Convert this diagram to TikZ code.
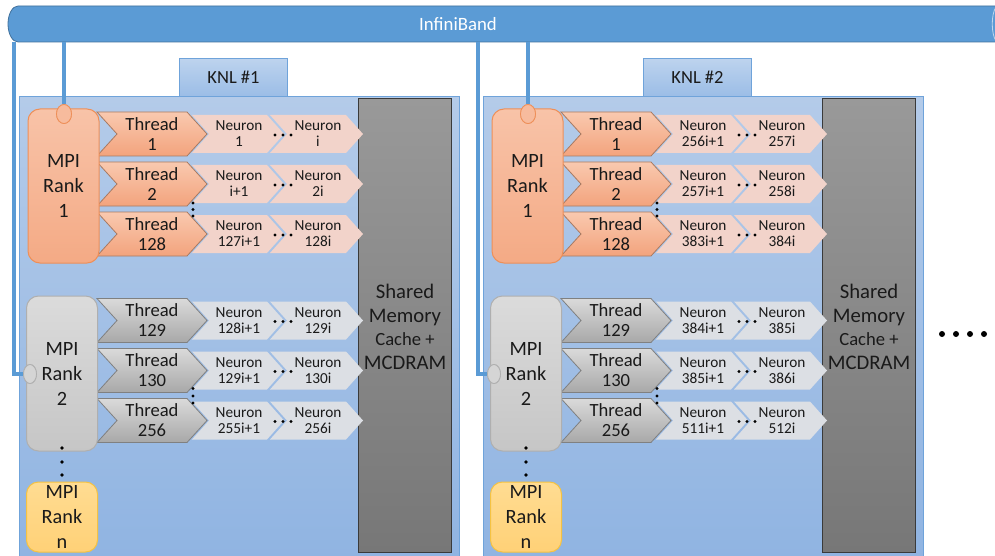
\documentclass[tikz,border=0pt]{standalone}
\usepackage{fontspec}
\setmainfont{Carlito}
\usetikzlibrary{shapes.geometric}
\definecolor{ibblue}{HTML}{5B9BD5}
\definecolor{ibborder}{HTML}{41719C}
\definecolor{knlTop}{HTML}{B4CBE9}
\definecolor{knlBot}{HTML}{90B4E2}
\definecolor{knlLine}{HTML}{6FA3DA}
\definecolor{tabTop}{HTML}{BDD3EE}
\definecolor{tabBot}{HTML}{9BBDE6}
\definecolor{shmTop}{HTML}{999999}
\definecolor{shmBot}{HTML}{777777}
\definecolor{shmLine}{HTML}{3A3A3A}
\definecolor{thrOTop}{HTML}{F9C9AF}
\definecolor{thrOBot}{HTML}{F3A37D}
\definecolor{thrOLine}{HTML}{A87A62}
\definecolor{thrGTop}{HTML}{DADADA}
\definecolor{thrGBot}{HTML}{A8A8A8}
\definecolor{thrGLine}{HTML}{808080}
\definecolor{neuO}{HTML}{F2D3CA}
\definecolor{neuG}{HTML}{DCDFE4}
\definecolor{rOTop}{HTML}{F8C3A8}
\definecolor{rOBot}{HTML}{F4AA85}
\definecolor{rOLine}{HTML}{EE8F58}
\definecolor{rGTop}{HTML}{DBDBDB}
\definecolor{rGBot}{HTML}{C6C6C6}
\definecolor{rGLine}{HTML}{AFAFAF}
\definecolor{rNTop}{HTML}{FFDC92}
\definecolor{rNBot}{HTML}{FFD177}
\definecolor{rNLine}{HTML}{F5C242}
\definecolor{txt}{HTML}{1A1A1A}
\tikzset{
  neuo/.style={fill=neuO},
  neug/.style={fill=neuG},
  thro/.style={draw=thrOLine, line width=0.8pt, top color=thrOTop, bottom color=thrOBot},
  thrg/.style={draw=thrGLine, line width=0.8pt, top color=thrGTop, bottom color=thrGBot},
  thrtext/.style={inner sep=0pt, align=center, text=txt, font=\fontsize{18.6}{20}\selectfont},
  neutext/.style={inner sep=0pt, align=center, text=txt, font=\fontsize{15.3}{16}\selectfont},
  ranktext/.style={inner sep=0pt, align=center, text=txt, font=\fontsize{20.3}{25}\selectfont, rounded corners=12pt, line width=1pt, minimum width=71pt},
  rank1/.style={ranktext, draw=rOLine, top color=rOTop, bottom color=rOBot, minimum height=154pt},
  rank2/.style={ranktext, draw=rGLine, top color=rGTop, bottom color=rGBot, minimum height=155pt},
  rankn/.style={ranktext, draw=rNLine, top color=rNTop, bottom color=rNBot, minimum height=70pt},
  porto/.style={ellipse, draw=rOLine, line width=0.8pt, fill=rOTop!70!rOBot, minimum width=15pt, minimum height=19pt, inner sep=0pt},
  portg/.style={ellipse, draw=rGLine, line width=0.8pt, fill=rGTop!70!rGBot, minimum width=13pt, minimum height=19pt, inner sep=0pt},
  knlbox/.style={draw=knlLine, line width=1pt, top color=knlTop, bottom color=knlBot, minimum width=440pt, minimum height=462pt, anchor=north west, inner sep=0pt},
  knltab/.style={draw=knlLine, line width=1pt, top color=tabTop, bottom color=tabBot, minimum width=108pt, minimum height=38pt, anchor=north west, inner sep=0pt, text=txt, font=\fontsize{18.5}{20}\selectfont},
  shmbox/.style={draw=shmLine, line width=1.2pt, top color=shmTop, bottom color=shmBot, minimum width=93pt, minimum height=454pt, anchor=north west, inner sep=0pt},
  shmtext/.style={inner sep=0pt, align=center, text=txt, font=\fontsize{20.7}{24}\selectfont},
  ibline/.style={draw=ibblue, line width=4pt},
  dotfill/.style={fill=black}
}
\newcommand\trow[6]{%
  \path[neu#3] (192,{#2-19}) -- (267,{#2-19}) -- (284,#2) -- (267,{#2+19}) -- (192,{#2+19}) -- (209,#2) -- cycle;
  \path[neu#3] (270,{#2-19}) -- (346,{#2-19}) -- (363,#2) -- (346,{#2+19}) -- (270,{#2+19}) -- (287,#2) -- cycle;
  \path[thr#3] (97,{#2-22}) -- (187,{#2-22}) -- (207,#2) -- (187,{#2+22}) -- (97,{#2+22}) -- (117,#2) -- cycle;
  \node[thrtext] (#1t) at (152,#2) {Thread\\#4};
  \node[neutext] (#1a) at (239,#2) {Neuron\\#5};
  \node[neutext] (#1b) at (318,#2) {Neuron\\#6};
  \foreach \dx in {275,283,291} \fill[dotfill] (\dx,{#2+1}) circle[radius=1.7pt];
}
\newcommand\knlback[2]{%
  \node[knltab] (tab#1) at (179,58) {#2};
  \node[knlbox] (knl#1) at (19,96) {};
  \node[shmbox] (shm#1) at (358,98) {};
  \node[shmtext] (shmt#1) at (405,327) {Shared\\Memory\\[-1pt]\fontsize{18.6}{23}\selectfont Cache +\\MCDRAM};
}
\newcommand\knlfront[1]{%
  \node[rank1] (ra#1) at (63.5,186) {MPI\\Rank\\1};
  \node[rank2] (rb#1) at (62,373.5) {MPI\\Rank\\2};
  \node[rankn] (rn#1) at (62,517) {MPI\\Rank\\n};
  \foreach \yy in {203,209.5,216} \fill[dotfill] (193,\yy) circle[radius=1.7pt];
  \foreach \yy in {388.5,396,403} \fill[dotfill] (193,\yy) circle[radius=1.7pt];
  \foreach \yy in {448,462,475} \fill[dotfill] (62,\yy) circle[radius=1.8pt];
  \coordinate (iba#1) at (64,42);
  \coordinate (ibb#1) at (14,42);
  \node[porto] (pa#1) at (64,114) {};
  \node[portg] (pb#1) at (30,374) {};
  \draw[ibline] (iba#1) -- (pa#1.north);
  \draw[ibline] (ibb#1) |- (pb#1.west);
  \node[porto] (pc#1) at (pa#1) {};
  \node[portg] (pd#1) at (pb#1) {};
}
\begin{document}
\begin{tikzpicture}[x=1pt,y=-1pt]
\useasboundingbox (0,0) rectangle (995,556);
\fill[white] (0,0) rectangle (995,556);
\path[fill=ibblue, draw=ibborder, line width=0.8pt] (18,42) arc[start angle=90, end angle=270, x radius=10, y radius=18] -- (996,6) -- (996,42) -- cycle;
\draw[ibblue!40!white, line width=0.8pt] (996,7) .. controls (991,14) and (991,34) .. (996,41);
\node[text=white, font=\fontsize{18.8}{20}\selectfont, inner sep=0pt] (ib) at (458,24) {InfiniBand};
\begin{scope}
\knlback{1}{KNL \#1}
\trow{a1}{134}{o}{1}{1}{i}
\trow{a2}{184}{o}{2}{i+1}{2i}
\trow{a3}{234}{o}{128}{127i+1}{128i}
\trow{a4}{320.5}{g}{129}{128i+1}{129i}
\trow{a5}{370.5}{g}{130}{129i+1}{130i}
\trow{a6}{420.5}{g}{256}{255i+1}{256i}
\knlfront{1}
\end{scope}
\begin{scope}[xshift=464pt]
\knlback{2}{KNL \#2}
\trow{b1}{134}{o}{1}{256i+1}{257i}
\trow{b2}{184}{o}{2}{257i+1}{258i}
\trow{b3}{234}{o}{128}{383i+1}{384i}
\trow{b4}{320.5}{g}{129}{384i+1}{385i}
\trow{b5}{370.5}{g}{130}{385i+1}{386i}
\trow{b6}{420.5}{g}{256}{511i+1}{512i}
\knlfront{2}
\end{scope}
\foreach \xx in {942,956,970,984} \fill[dotfill] (\xx,334) circle[radius=3pt];
\end{tikzpicture}
\end{document}
